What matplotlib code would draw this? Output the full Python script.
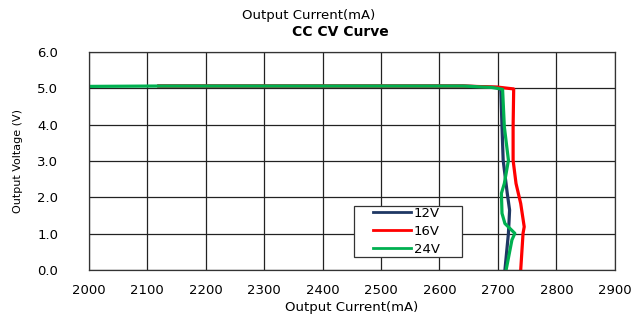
import numpy as np
import matplotlib
matplotlib.use("Agg")
import matplotlib.pyplot as plt
from matplotlib.patches import Rectangle

# curves (current mA, voltage V)
i_12v = [2120, 2640, 2700, 2705, 2707, 2709, 2716, 2720, 2718, 2712]
v_12v = [5.06, 5.06, 5.02, 4.95, 3.94, 3.02, 2.11, 1.65, 1.01, 0.0]

i_16v = [2120, 2640, 2700, 2727, 2726, 2726, 2731, 2739, 2745, 2743, 2739]
v_16v = [5.06, 5.06, 5.03, 4.98, 3.94, 3.02, 2.38, 1.83, 1.19, 1.01, 0.0]

i_24v = [2000, 2120, 2640, 2690, 2708, 2711, 2718, 2711, 2706, 2707, 2712, 2729, 2724, 2714]
v_24v = [5.05, 5.06, 5.06, 5.02, 4.97, 3.94, 3.02, 2.38, 2.11, 1.56, 1.28, 1.01, 0.83, 0.0]

x_ticks = np.arange(2000, 2901, 100)
y_ticks = np.arange(0, 6.1, 1.0)

fig = plt.figure(figsize=(6.44, 3.2), dpi=100)
ax = fig.add_axes([0.1377, 0.156, 0.817, 0.682])

ax.plot(i_12v, v_12v, color="#1f3864", lw=2.3, label="12V")
ax.plot(i_16v, v_16v, color="#ff0000", lw=2.3, label="16V")
ax.plot(i_24v, v_24v, color="#00b050", lw=2.3, label="24V")

ax.set_xlim(2000, 2900)
ax.set_ylim(0, 6)
ax.set_xticks(x_ticks)
ax.set_yticks(y_ticks)
ax.set_yticklabels(["%.1f" % v for v in y_ticks])
ax.tick_params(length=0, labelsize=9.5, pad=10)
ax.tick_params(axis="y", pad=22)
ax.grid(True, color="#222222", lw=0.9)
ax.set_axisbelow(True)
for s in ax.spines.values():
    s.set_color("#333333")
    s.set_linewidth(0.9)

ax.set_xlabel("Output Current(mA)", fontsize=9.5, labelpad=3)
ax.set_ylabel("Output Voltage (V)", fontsize=8, labelpad=10)

fig.text(0.48, 0.95, "Output Current(mA)", ha="center", va="center", fontsize=9.5)
fig.text(0.528, 0.9, "CC CV Curve", ha="center", va="center", fontsize=10, fontweight="bold")

# legend box drawn by hand so it can be wider than its contents
box = Rectangle((0.504, 0.058), 0.206, 0.236, transform=ax.transAxes,
                facecolor="white", edgecolor="#333333", lw=0.9, zorder=4)
ax.add_patch(box)
leg = ax.legend(loc="upper left", bbox_to_anchor=(0.541, 0.289), fontsize=9.5,
                frameon=False, handlelength=2.88, handletextpad=0.17,
                borderpad=0, labelspacing=0.36, borderaxespad=0)
leg.set_zorder(5)
for h in leg.get_lines():
    h.set_linewidth(2.0)

fig.savefig("out.png", dpi=100)
